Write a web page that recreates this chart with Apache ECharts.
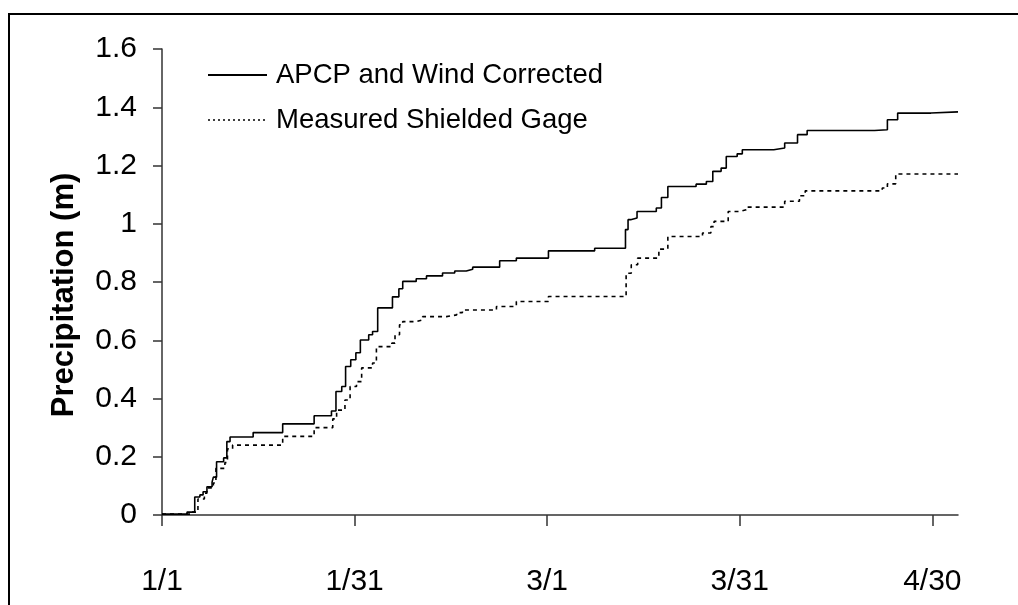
<!DOCTYPE html>
<html>
<head>
<meta charset="utf-8" />
<title>Precipitation</title>
<script type="text/javascript" src="https://cdn.jsdelivr.net/npm/echarts@6.0.0/dist/echarts.min.js"></script>
<style>
	html, body { margin: 0; padding: 0; background: #fff; }
	#main { width: 1018px; height: 605px; }
</style>
</head>
<body>
<div id="main"></div>
<script>
	// days after 1/1 (leap year, ticks are 30 days apart)
	var tickDays = [0, 30, 60, 90, 120];
	var tickLabels = ['1/1', '1/31', '3/1', '3/31', '4/30'];

	// APCP and Wind Corrected, cumulative (m)
	var apcpDays = [0, 3.9, 5.1, 5.9, 6.4, 7.0, 7.8, 8.0, 8.5, 9.6, 10.1, 10.6, 14.2, 18.8, 23.7, 26.4, 27.1, 28.0, 28.6, 29.4,
		30.2, 30.9, 32.2, 32.8, 33.6, 35.9, 36.9, 37.5, 39.6, 41.2, 43.7, 45.6, 47.4, 48.4, 52.6, 55.2, 60.2, 67.4,
		72.2, 72.6, 73.0, 74.0, 77.0, 77.8, 78.8, 83.2, 84.8, 85.8, 87.1, 87.9, 89.6, 90.4, 95.3, 97.0, 99.0, 100.5,
		111.0, 113.0, 114.6, 119.8, 124];
	var apcpValues = [0.003, 0.01, 0.062, 0.069, 0.08, 0.097, 0.113, 0.13, 0.183, 0.196, 0.252, 0.268, 0.283, 0.313, 0.341, 0.357, 0.424, 0.441, 0.51, 0.533,
		0.557, 0.601, 0.619, 0.63, 0.711, 0.749, 0.777, 0.802, 0.811, 0.821, 0.831, 0.838, 0.844, 0.851, 0.873, 0.882, 0.907, 0.916,
		0.98, 1.014, 1.02, 1.042, 1.054, 1.09, 1.128, 1.136, 1.145, 1.18, 1.191, 1.231, 1.24, 1.254, 1.26, 1.277, 1.306, 1.32,
		1.323, 1.357, 1.38, 1.384, 1.384];

	// Measured Shielded Gage, cumulative (m)
	var gageDays = [0, 4.4, 5.6, 6.6, 7.0, 8.0, 8.4, 9.8, 10.2, 11.0, 18.8, 23.7, 26.6, 27.2, 28.5, 29.3, 30.3, 31.1, 32.8, 33.4,
		35.8, 36.3, 37.0, 37.5, 39.6, 40.6, 44.3, 45.9, 46.8, 52.1, 55.2, 60.2, 72.3, 73.1, 74.1, 77.4, 78.8, 84.2,
		85.5, 86.0, 88.2, 90.0, 91.0, 97.0, 99.3, 100.2, 112.2, 113.0, 114.3, 124];
	var gageValues = [0.003, 0.01, 0.055, 0.075, 0.093, 0.11, 0.16, 0.18, 0.227, 0.24, 0.27, 0.30, 0.33, 0.36, 0.395, 0.441, 0.458, 0.505, 0.522, 0.578,
		0.59, 0.619, 0.653, 0.664, 0.67, 0.681, 0.687, 0.695, 0.704, 0.716, 0.733, 0.75, 0.83, 0.859, 0.882, 0.913, 0.956, 0.968,
		0.99, 1.008, 1.042, 1.048, 1.057, 1.077, 1.096, 1.113, 1.123, 1.137, 1.171, 1.173];

	function pairs(xs, ys) {
		var out = [];
		for (var i = 0; i < xs.length; i++) {
			out.push([xs[i], ys[i]]);
		}
		return out;
	}

	var font = 'Liberation Sans, Arial, sans-serif';
	var chart = echarts.init(document.getElementById('main'));

	chart.setOption({
		animation: false,
		backgroundColor: '#fff',
		grid: { left: 162, top: 49, right: 60, bottom: 90 },
		graphic: [{
			type: 'rect',
			shape: { x: 9, y: 14, width: 1100, height: 700 },
			style: { fill: 'none', stroke: '#000', lineWidth: 2 }
		}],
		legend: {
			orient: 'vertical',
			left: 207,
			top: 61,
			padding: 0,
			itemWidth: 59,
			itemHeight: 14,
			itemGap: 17,
			itemStyle: { color: 'transparent', borderWidth: 0 },
			textStyle: { fontFamily: font, fontSize: 27.5, color: '#000', padding: [0, 0, 0, 4] },
			data: [
				{ name: 'APCP and Wind Corrected' },
				{ name: 'Measured Shielded Gage', lineStyle: { type: [2, 3], width: 1.5 } }
			]
		},
		xAxis: {
			type: 'value',
			min: 0,
			max: 124,
			interval: 30,
			splitLine: { show: false },
			axisLine: { onZero: false, lineStyle: { color: '#333', width: 1.5 } },
			axisTick: { show: true, length: 11, customValues: tickDays, lineStyle: { color: '#333', width: 1.5 } },
			axisLabel: {
				customValues: tickDays,
				margin: 52,
				fontFamily: font,
				fontSize: 30,
				color: '#000',
				formatter: function (v) { return tickLabels[tickDays.indexOf(v)]; }
			}
		},
		yAxis: {
			type: 'value',
			min: 0,
			max: 1.6,
			interval: 0.2,
			name: 'Precipitation (m)',
			nameLocation: 'middle',
			nameGap: 82,
			nameTextStyle: { fontFamily: font, fontSize: 31, fontWeight: 'bold', color: '#000', padding: [0, 0, 0, -26] },
			splitLine: { show: false },
			axisLine: { show: true, lineStyle: { color: '#333', width: 1.5 } },
			axisTick: { show: true, length: 9, lineStyle: { color: '#333', width: 1.5 } },
			axisLabel: { margin: 25, fontFamily: font, fontSize: 30, color: '#000' }
		},
		series: [{
			name: 'APCP and Wind Corrected',
			type: 'line',
			step: 'end',
			symbol: 'none',
			lineStyle: { color: '#000', width: 1.6 },
			itemStyle: { color: '#000' },
			data: pairs(apcpDays, apcpValues)
		}, {
			name: 'Measured Shielded Gage',
			type: 'line',
			step: 'end',
			symbol: 'none',
			lineStyle: { color: '#000', width: 1.6, type: [4, 4] },
			itemStyle: { color: '#000' },
			data: pairs(gageDays, gageValues)
		}]
	});
</script>
</body>
</html>
